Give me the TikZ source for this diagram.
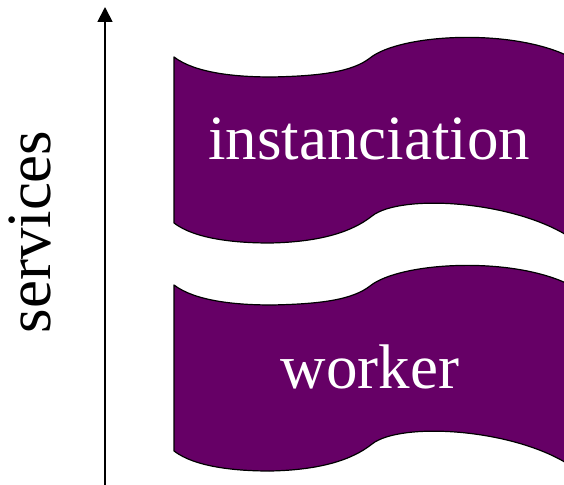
\documentclass[tikz,border=0pt]{standalone}
\usepackage{fontspec}
\setmainfont{Liberation Serif}
\usepackage{tikz}
\usetikzlibrary{arrows.meta}
\definecolor{plum}{HTML}{660066}
\tikzset{
  every picture/.style={line join=round, line cap=round, >=Stealth},
  banner/.style={draw=black, line width=1.2bp, fill=plum},
  bannertext/.style={text=white, font=\fontsize{63bp}{70bp}\selectfont, anchor=base},
  axislabel/.style={font=\fontsize{63bp}{70bp}\selectfont, anchor=base, rotate=90},
}
\newcommand{\bannerpath}{(174,57) .. controls (195,73) and (235,77) .. (272,77)
  .. controls (320,76) and (352,72) .. (370,58)
  .. controls (400,34) and (510,28) .. (568,56) -- (568,236)
  .. controls (510,200) and (400,194) .. (372,216)
  .. controls (352,232) and (320,242) .. (270,243)
  .. controls (235,243) and (195,239) .. (174,223) -- cycle}

\begin{document}
\begin{tikzpicture}[x=1bp,y=-1bp]
\clip(0,0)rectangle(564,485);
\coordinate(base)at(105,487);
\coordinate(tip)at(105,7);
\draw[-{Triangle[width=15bp,length=15bp]},line width=1.8bp,line cap=butt](base)--(tip);
\node[axislabel](serv)at(50,232){services};
\draw[banner]\bannerpath;
\draw[banner,shift={(0,228)}]\bannerpath;
\node[bannertext](inst)at(369,160){instanciation};
\node[bannertext](work)at(370,388){worker};
\end{tikzpicture}
\end{document}
